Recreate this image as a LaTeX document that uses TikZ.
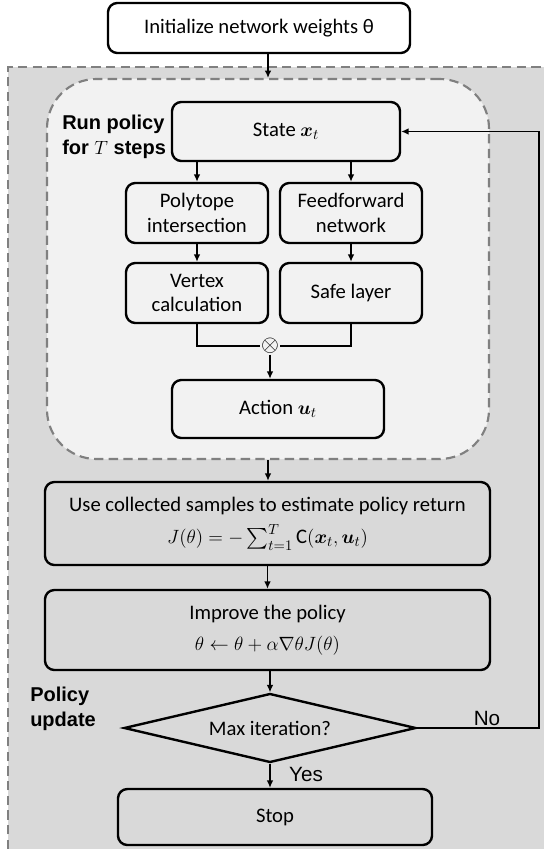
\documentclass[tikz,border=0pt]{standalone}
\usepackage{amsmath}
\usepackage{amssymb}
\usepackage{fontspec}
\setmainfont{Carlito}
\newfontfamily\arialfont{Liberation Sans}
\usetikzlibrary{positioning,arrows.meta,shapes.geometric}
\definecolor{outergray}{HTML}{D9D9D9}
\definecolor{innergray}{HTML}{F2F2F2}
\definecolor{dashgray}{HTML}{808080}
\tikzset{>={Latex[length=5.5pt,width=5pt]}}
\tikzset{
    block/.style={rectangle,draw,rounded corners=7pt,line width=1.8pt,align=center,font=\fontsize{15.5}{18.5}\selectfont,inner sep=2pt},
    zone/.style={draw=dashgray,line width=1.6pt,dash pattern=on 7pt off 4pt},
    decision/.style={diamond,draw,line width=1.8pt,aspect=4,inner sep=0pt,font=\fontsize{15.5}{18.5}\selectfont},
    steplabel/.style={font=\arialfont\bfseries\fontsize{15}{19}\selectfont,align=left,inner sep=0pt},
    answer/.style={font=\arialfont\fontsize{15.5}{18}\selectfont,inner sep=0pt},
    link/.style={->,line width=1.4pt},
}

\begin{document}
\begin{tikzpicture}[x=0.75pt,y=-0.75pt]
    \useasboundingbox (0,0) rectangle (544,849);

    % policy update area
    \fill[outergray] (8,67) rectangle (544,849);
    \draw[zone] (8,849) -- (8,67) -- (544,67);

    % run policy area
    \node[zone,fill=innergray,rounded corners=37pt,minimum width=331.5pt,minimum height=285pt] (runbox) at (268,269) {};

    \node[block,minimum width=226.5pt,minimum height=37.5pt] (init) at (259,28) {Initialize network weights θ};
    \node[block,minimum width=171pt,minimum height=44.25pt] (state) at (286,131.5) {State $\boldsymbol{x}_t$};
    \node[block,minimum width=106.5pt,minimum height=45pt] (poly) at (197,213) {Polytope\\intersection};
    \node[block,minimum width=106.5pt,minimum height=45pt] (feed) at (351,213) {Feedforward\\network};
    \node[block,minimum width=106.5pt,minimum height=45pt] (vertex) at (197,293) {Vertex\\calculation};
    \node[block,minimum width=106.5pt,minimum height=45pt] (safe) at (351,293) {Safe layer};
    \node[inner sep=0.5pt,font=\fontsize{19}{20}\selectfont] (prod) at (270,346) {$\otimes$};
    \node[block,minimum width=159pt,minimum height=43.5pt] (action) at (278,409) {Action $\boldsymbol{u}_t$};

    \node[block,minimum width=333.75pt,minimum height=62.25pt] (use) at (267.5,523.5) {Use collected samples to estimate policy return\\[6pt]$J(\theta)=-\sum_{t=1}^{T}\mathrm{C}(\boldsymbol{x}_t,\boldsymbol{u}_t)$};
    \node[block,minimum width=333.75pt,minimum height=60pt] (improve) at (267.5,630) {Improve the policy\\[5pt]$\theta\leftarrow\theta+\alpha\nabla\theta J(\theta)$};
    \node[decision,minimum width=219pt,minimum height=51.75pt] (maxit) at (270,728) {Max iteration?};
    \node[block,minimum width=235.5pt,minimum height=42pt] (stop) at (275,817) {Stop};

    \node[steplabel,anchor=west] (runlbl) at (62,137) {Run policy\\for $T$ steps};
    \node[steplabel,anchor=west] (updlbl) at (30,709) {Policy\\update};
    \node[answer] (nolbl) at (487,718) {No};
    \node[answer] (yeslbl) at (306,774) {Yes};
    \coordinate (loop) at (539,728);

    \draw[link] (init.south -| runbox.north) -- (runbox.north);
    \draw[link] (state.south -| poly) -- (poly.north);
    \draw[link] (state.south -| feed) -- (feed.north);
    \draw[link] (poly) -- (vertex);
    \draw[link] (feed) -- (safe);
    \draw[line width=1.4pt] (vertex.south) |- (prod.west);
    \draw[line width=1.4pt] (safe.south) |- (prod.east);
    \draw[link] (prod.south) -- (prod.south |- action.north);
    \draw[link] (runbox.south) -- (runbox.south |- use.north);
    \draw[link] (use) -- (improve);
    \draw[link] (improve.south -| maxit) -- (maxit.north);
    \draw[link] (maxit.south) -- (maxit.south |- stop.north);
    \draw[link] (maxit.east) -- (loop) |- (state.east);
\end{tikzpicture}
\end{document}
